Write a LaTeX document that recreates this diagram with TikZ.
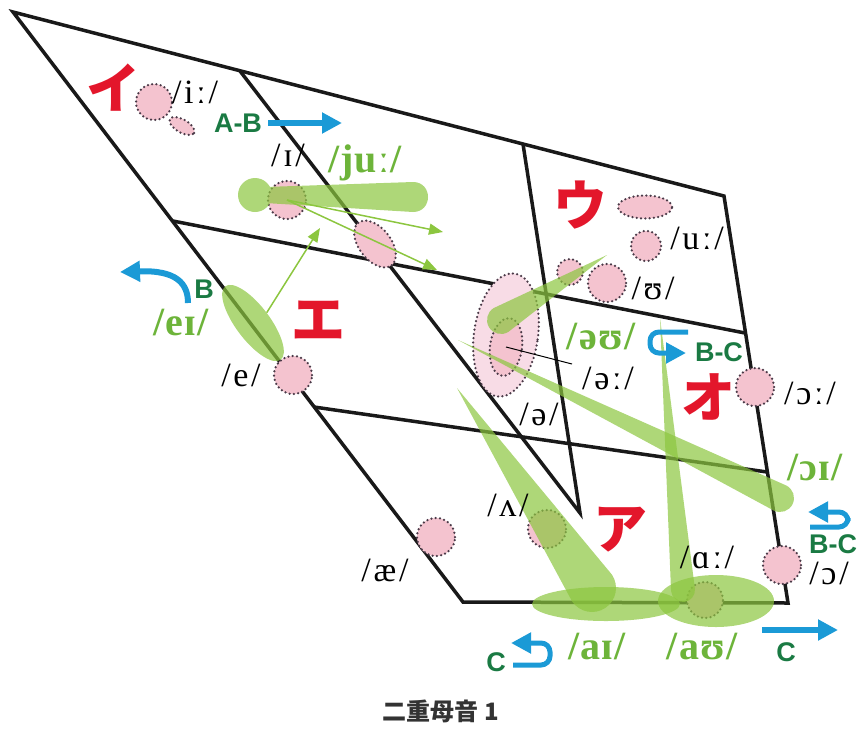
\documentclass[tikz,border=0pt]{standalone}
\usepackage{fontspec}
\setmainfont{Liberation Serif}
\setsansfont{Liberation Sans}
\newfontfamily\ipafont[LetterSpace=8]{Liberation Serif}
\newfontfamily\dipfont[LetterSpace=3]{Liberation Serif}
\newfontfamily\jpfont{Noto Sans CJK JP}
\usetikzlibrary{shapes.geometric,arrows.meta,calc}
\definecolor{vpink}{HTML}{F4C3CF}
\definecolor{vpale}{HTML}{F8DCE6}
\definecolor{vdot}{HTML}{4A3A48}
\definecolor{vgreen}{HTML}{8CC63F}
\definecolor{vtext}{HTML}{6DB43A}
\definecolor{vred}{HTML}{E3162B}
\definecolor{vblue}{HTML}{1B9AD6}
\definecolor{vdark}{HTML}{1A7A43}
\newcommand\gtaper[3]{\fill[gfill] let \p1=($(#2)-(#1)$), \n1={atan2(\y1,\x1)} in
  (#1) -- ($(#2)+(\n1+90:#3)$) arc[start angle=\n1+90,delta angle=-180,radius=#3] -- cycle;}

\begin{document}
\begin{tikzpicture}[x=1pt,y=-1pt,
  vline/.style={line width=3.5pt,black!90},
  vow/.style={fill=vpink,draw=vdot,line width=2.5pt,dash pattern=on 0pt off 4.3pt,line cap=round,inner sep=0pt},
  dot/.style={vow,circle,minimum size=38pt},
  oval/.style={vow,ellipse},
  gfill/.style={fill=vgreen,fill opacity=0.7},
  gshape/.style={gfill,inner sep=0pt,ellipse},
  garr/.style={draw=vgreen,line width=1.5pt,-{Triangle[length=14pt,width=11pt]}},
  barr/.style={draw=vblue,line width=6pt,-{Triangle[length=20pt,width=20pt]}},
  hook/.style={barr,line width=5pt,rounded corners=9pt},
  ipa/.style={inner sep=0pt,font=\ipafont\fontsize{34}{34}\selectfont},
  dip/.style={inner sep=0pt,text=vtext,font=\dipfont\fontsize{40}{40}\selectfont\bfseries},
  kana/.style={inner sep=0pt,text=vred,font=\jpfont\bfseries\fontsize{54}{54}\selectfont},
  tag/.style={inner sep=0pt,text=vdark,font=\sffamily\bfseries\fontsize{27}{27}\selectfont}]
\useasboundingbox (0,0) rectangle (862,729);

% frame
\coordinate (tl) at (13,12);
\coordinate (tr) at (724,196);
\coordinate (br) at (788,603);
\coordinate (bl) at (463,602);
\coordinate (ml) at (173,221);
\coordinate (mr) at (745,333);
\coordinate (ll) at (314,407);
\coordinate (lr) at (767,472);
\coordinate (t1) at (240,71);
\coordinate (t2) at (523,144);
\coordinate (v) at (580,513);
\draw[vline] (tl) -- (tr) -- (br) -- (bl) -- cycle;
\draw[vline] (ml) -- (mr);
\draw[vline] (ll) -- (lr);
\draw[vline] (t1) -- (v) -- (t2);

% vowels
\node[oval,minimum width=28pt,minimum height=13pt,rotate=-30] (pi2) at (182,126) {};
\node[dot,minimum size=36pt] (pi) at (154,102) {};
\node[dot] (pI) at (287,200) {};
\node[oval,minimum width=54pt,minimum height=32pt,rotate=-52] (pIe) at (375,244) {};
\node[oval,minimum width=54pt,minimum height=23pt] (pu) at (645,207) {};
\node[dot,minimum size=30pt] (pu2) at (646,246) {};
\node[dot,minimum size=26pt] (pU1) at (570,272) {};
\node[dot] (pU) at (607,283) {};
\node[oval,fill=vpale,minimum width=64pt,minimum height=124pt,rotate=-8] (pE) at (506,335) {};
\node[oval,minimum width=32pt,minimum height=58pt,rotate=-8] (pE2) at (506,347) {};
\node[dot] (pe) at (293,375) {};
\node[dot] (pae) at (436,537) {};
\node[dot] (pV) at (547,529) {};
\node[dot,minimum size=36pt] (pA) at (705,600) {};
\node[dot] (pO) at (782,565) {};
\node[dot] (pO2) at (755,387) {};
\coordinate (lead) at (572,364);
\draw[line width=1pt] (pE2.center) -- (lead);

% diphthongs
\node[gshape,minimum width=92pt,minimum height=34pt,rotate=-53] (geI) at (253,323) {};
\fill[gfill] (255,195) circle[radius=17pt] (265,203) -- (413,212) .. controls (433,212) and (433,182) .. (413,182) -- (265,187) -- cycle;
\gtaper{607,255}{501,320}{14pt}
\gtaper{458,340}{780,498}{14pt}
\gtaper{457,388}{592,588}{24pt}
\gtaper{660,318}{683,590}{12pt}
\node[gshape,minimum width=148pt,minimum height=34pt] (gaI) at (606,604) {};
\node[gshape,minimum width=116pt,minimum height=52pt] (gaU) at (716,601) {};
\coordinate (j1) at (443,232);
\coordinate (j2) at (437,270);
\coordinate (e1) at (320,228);
\draw[garr] (pI.center) -- (j1);
\draw[garr] (pI.center) -- (j2);
\draw[garr] (geI.north) -- (e1);

% labels
\node[ipa] (li) at (195,92) {/iː/};
\node[ipa] (lI) at (288,155) {/ɪ/};
\node[ipa] (lu) at (697,238) {/uː/};
\node[ipa] (lU) at (653,288) {/ʊ/};
\node[ipa] (lEE) at (608,378) {/əː/};
\node[ipa] (lE) at (539,414) {/ə/};
\node[ipa] (lO2) at (810,393) {/ɔː/};
\node[ipa] (le) at (241,375) {/e/};
\node[ipa] (lae) at (385,570) {/æ/};
\node[ipa] (lV) at (508,505) {/ʌ/};
\node[ipa] (lA) at (707,557) {/ɑː/};
\node[ipa] (lO) at (829,573) {/ɔ/};

\node[dip] (dju) at (365,163) {/juː/};
\node[dip] (deI) at (181,323) {/eɪ/};
\node[dip] (dEU) at (601,337) {/əʊ/};
\node[dip] (dOI) at (815,468) {/ɔɪ/};
\node[dip] (daI) at (597,647) {/aɪ/};
\node[dip] (daU) at (702,647) {/aʊ/};

\node[kana] (ki) at (113,88) {イ};
\node[kana] (ku) at (580,205) {ウ};
\node[kana] (ke) at (318,320) {エ};
\node[kana] (ko) at (708,397) {オ};
\node[kana] (ka) at (620,530) {ア};

\node[tag] (tAB) at (238,123) {A-B};
\node[tag] (tB) at (204,289) {B};
\node[tag] (tBC) at (719,352) {B-C};
\node[tag] (tBC2) at (833,544) {B-C};
\node[tag] (tC) at (496,662) {C};
\node[tag] (tC2) at (786,652) {C};

% moves
\coordinate (ab0) at (268,123);
\coordinate (ab1) at (342,123);
\draw[barr] (ab0) -- (ab1);
\coordinate (b0) at (188,303);
\coordinate (b1) at (120,272);
\draw[barr] (b0) .. controls (188,283) and (176,270) .. (b1);
\coordinate (h0) at (688,332);
\coordinate (h1) at (686,353);
\draw[hook] (h0) -- (650,332) -- (650,353) -- (h1);
\coordinate (k0) at (810,527);
\coordinate (k1) at (808,512);
\draw[hook] (k0) -- (848,527) -- (848,512) -- (k1);
\coordinate (c0) at (513,665);
\coordinate (c1) at (511,643);
\draw[hook] (c0) -- (550,665) -- (550,643) -- (c1);
\coordinate (r0) at (762,630);
\coordinate (r1) at (838,630);
\draw[barr] (r0) -- (r1);

\node[text=black!80,font=\jpfont\bfseries\fontsize{24}{24}\selectfont] (cap) at (441,711) {二重母音 1};
\end{tikzpicture}
\end{document}
